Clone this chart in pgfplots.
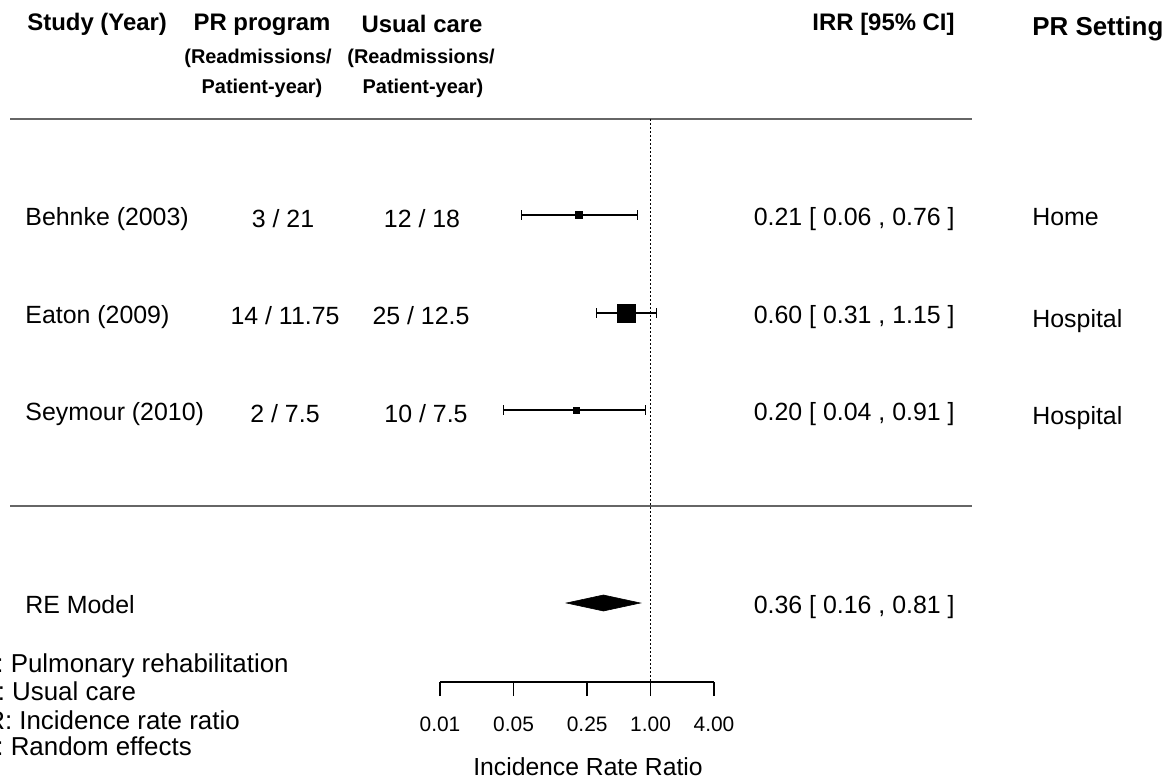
\documentclass[border=0pt]{standalone}
\usepackage{pgfplots}
\pgfplotsset{compat=1.18}
\usepackage{fontspec}
\setmainfont{Liberation Sans}
\newcommand\rt{\fontsize{12.5}{15}\selectfont}
\newcommand\hd{\fontsize{12}{14}\selectfont\bfseries}
\newcommand\sh{\fontsize{10}{12}\selectfont\bfseries}
\begin{document}
\begin{tikzpicture}
\useasboundingbox (0,0) rectangle (585.5bp,391bp);
\clip (0,0) rectangle (585.5bp,391bp);
% text / layout axis in pixel units
\begin{axis}[at={(0,0)}, anchor=south west, scale only axis,
  width=585.5bp, height=391bp, xmin=0, xmax=1171, ymin=0, ymax=782,
  y dir=reverse, hide axis, clip=false]
  \draw[line width=1.1bp, color=black!60] (axis cs:10,119) -- (axis cs:972,119);
  \draw[line width=1.1bp, color=black!60] (axis cs:10,506) -- (axis cs:972,506);
  % headers
  \node[anchor=base west, inner sep=0] at (axis cs:27,31) {\hd Study (Year)};
  \node[anchor=base, inner sep=0] at (axis cs:262,31) {\hd PR program};
  \node[anchor=base, inner sep=0] at (axis cs:422,33) {\hd Usual care};
  \node[anchor=base, inner sep=0] at (axis cs:258,63) {\sh (Readmissions/};
  \node[anchor=base, inner sep=0] at (axis cs:421,63) {\sh (Readmissions/};
  \node[anchor=base, inner sep=0] at (axis cs:262,93) {\sh Patient-year)};
  \node[anchor=base, inner sep=0] at (axis cs:423,93) {\sh Patient-year)};
  \node[anchor=base east, inner sep=0] at (axis cs:955,31) {\hd IRR [95\% CI]};
  \node[anchor=base west, inner sep=0] at (axis cs:1032,36) {\fontsize{13}{15}\selectfont\bfseries PR Setting};
  % rows
  \node[anchor=base west, inner sep=0] at (axis cs:25,225) {\rt Behnke (2003)};
  \node[anchor=base, inner sep=0] at (axis cs:283,227) {\rt 3 / 21};
  \node[anchor=base, inner sep=0] at (axis cs:422,227) {\rt 12 / 18};
  \node[anchor=base east, inner sep=0] at (axis cs:955,225) {\rt 0.21 [ 0.06 , 0.76 ]};
  \node[anchor=base west, inner sep=0] at (axis cs:1032,225) {\rt Home};
  \node[anchor=base west, inner sep=0] at (axis cs:25,323) {\rt Eaton (2009)};
  \node[anchor=base, inner sep=0] at (axis cs:285,324) {\rt 14 / 11.75};
  \node[anchor=base, inner sep=0] at (axis cs:421,324) {\rt 25 / 12.5};
  \node[anchor=base east, inner sep=0] at (axis cs:955,323) {\rt 0.60 [ 0.31 , 1.15 ]};
  \node[anchor=base west, inner sep=0] at (axis cs:1032,327) {\rt Hospital};
  \node[anchor=base west, inner sep=0] at (axis cs:25,420) {\rt Seymour (2010)};
  \node[anchor=base, inner sep=0] at (axis cs:285,422) {\rt 2 / 7.5};
  \node[anchor=base, inner sep=0] at (axis cs:426,422) {\rt 10 / 7.5};
  \node[anchor=base east, inner sep=0] at (axis cs:955,420) {\rt 0.20 [ 0.04 , 0.91 ]};
  \node[anchor=base west, inner sep=0] at (axis cs:1032,424) {\rt Hospital};
  \node[anchor=base west, inner sep=0] at (axis cs:25,613) {\rt RE Model};
  \node[anchor=base east, inner sep=0] at (axis cs:955,613) {\rt 0.36 [ 0.16 , 0.81 ]};
  % footnotes (cut at the left edge, as in the reference)
  \node[anchor=base west, inner sep=0] at (axis cs:-40,672) {\fontsize{13}{15}\selectfont PR: Pulmonary rehabilitation};
  \node[anchor=base west, inner sep=0] at (axis cs:-40,700) {\fontsize{13}{15}\selectfont UC: Usual care};
  \node[anchor=base west, inner sep=0] at (axis cs:-40,729) {\fontsize{13}{15}\selectfont IRR: Incidence rate ratio};
  \node[anchor=base west, inner sep=0] at (axis cs:-40,755) {\fontsize{13}{15}\selectfont RE: Random effects};
  \node[anchor=base, inner sep=0] at (axis cs:588,775) {\fontsize{12.4}{15}\selectfont Incidence Rate Ratio};
\end{axis}
% data axis (log x), same box
\begin{axis}[at={(0,0)}, anchor=south west, scale only axis,
  width=585.5bp, height=391bp, xmode=log,
  xmin=6.449e-7, xmax=9.16e4, ymin=0, ymax=782,
  y dir=reverse, hide axis, clip=false]
  \addplot[black, line width=0.5bp, dash pattern=on 0.9bp off 1.1bp] coordinates {(1,119) (1,682)};
  % confidence intervals
  \addplot[black, line width=0.7bp, mark=|, mark size=2.4bp, mark options={solid, line width=0.7bp}] coordinates {(0.06,215) (0.76,215)};
  \addplot[black, line width=0.7bp, mark=|, mark size=2.4bp, mark options={solid, line width=0.7bp}] coordinates {(0.31,313) (1.15,313)};
  \addplot[black, line width=0.7bp, mark=|, mark size=2.4bp, mark options={solid, line width=0.7bp}] coordinates {(0.04,410) (0.91,410)};
  % point estimates
  \addplot[only marks, mark=square*, mark size=1.8bp, black] coordinates {(0.21,215)};
  \addplot[only marks, mark=square*, mark size=4.5bp, black] coordinates {(0.60,313)};
  \addplot[only marks, mark=square*, mark size=1.5bp, black] coordinates {(0.20,410)};
  % RE diamond
  \addplot[fill=black, draw=black, line width=0.3bp] coordinates {(0.16,603) (0.36,595) (0.81,603) (0.36,611)} -- cycle;
\end{axis}
% scale axis
\begin{axis}[at={(220bp,50bp)}, anchor=south west, scale only axis,
  width=137bp, height=10bp, xmode=log, xmin=0.01, xmax=4,
  ymin=0, ymax=1, axis x line*=bottom, axis y line=none,
  axis line style={line width=0.7bp, -}, tick style={line width=0.7bp, black},
  tick align=outside, major tick length=7bp, minor tick num=0,
  xtick={0.01,0.05,0.25,1,4}, xticklabels={0.01,0.05,0.25,1.00,4.00},
  xticklabel style={font=\fontsize{10.5}{12}\selectfont, yshift=-7bp},
  /pgf/number format/assume math mode=true]
  \addplot[draw=none] coordinates {(0.01,0) (4,0)};
\end{axis}
\end{tikzpicture}
\end{document}
